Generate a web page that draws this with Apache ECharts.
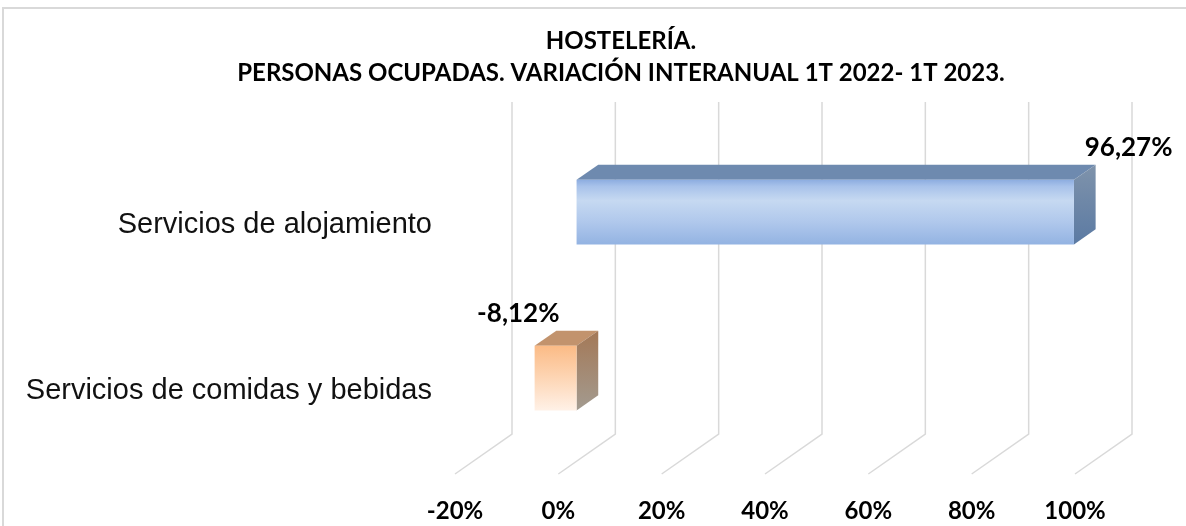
<!DOCTYPE html>
<html>
<head>
<meta charset="utf-8">
<script src="https://cdn.jsdelivr.net/npm/echarts@6/dist/echarts.min.js"></script>
<style>
  html, body { margin: 0; padding: 0; background: #fff; }
  #main { width: 1186px; height: 526px; }
</style>
</head>
<body>
<div id="main"></div>
<script>
// datos del gráfico
var categorias = ['Servicios de alojamiento', 'Servicios de comidas y bebidas'];
var variacion = [96.27, -8.12];
var ticks = [-20, 0, 20, 40, 60, 80, 100];

// profundidad 3D (fondo del gráfico y de las barras)
var DX = 57, DY = -40;
var F1 = 0.32, F2 = 0.70;

var myChart = echarts.init(document.getElementById('main'));

var coloresBarra = [
    {
        front: [[0, '#8dade0'], [0.1, '#a8c2ea'], [0.32, '#c6d9f1'], [0.65, '#b0c8ec'], [1, '#93b3e2']],
        top: '#6e8aaf',
        side: [[0, '#7f93ab'], [1, '#5b7aa3']]
    },
    {
        front: [[0, '#fbbb86'], [0.45, '#fdd3b0'], [1, '#fff1e7']],
        top: '#c2936d',
        side: [[0, '#a47856'], [1, '#a39b90']]
    }
];

function grad(x0, y0, x1, y1, stops) {
    return new echarts.graphic.LinearGradient(x0, y0, x1, y1, stops.map(function (s) {
        return { offset: s[0], color: s[1] };
    }));
}

function fmt(v) {
    return v.toFixed(2).replace('.', ',') + '%';
}

var option = {
    animation: false,
    backgroundColor: '#ffffff',
    title: {
        text: 'HOSTELERÍA.\nPERSONAS OCUPADAS. VARIACIÓN INTERANUAL 1T 2022- 1T 2023.',
        left: 616,
        top: 20,
        textAlign: 'center',
        textStyle: {
            fontFamily: 'Lato',
            fontWeight: 'bold',
            fontSize: 24,
            lineHeight: 32,
            color: '#000'
        }
    },
    graphic: [{
        type: 'rect',
        shape: { x: 3, y: 8, width: 1300, height: 700 },
        style: { fill: 'none', stroke: '#d9d9d9', lineWidth: 2 },
        silent: true,
        z: -10
    }],
    grid: {
        left: 455,
        right: 111,
        top: 142,
        bottom: 52,
        containLabel: false
    },
    xAxis: {
        type: 'value',
        min: -20,
        max: 100,
        interval: 20,
        axisLine: { show: false },
        axisTick: { show: false },
        splitLine: { show: false },
        axisLabel: {
            formatter: '{value}%',
            margin: 25,
            fontFamily: 'Lato',
            fontWeight: 'bold',
            fontSize: 24,
            color: '#000'
        }
    },
    yAxis: {
        type: 'category',
        data: categorias,
        inverse: true,
        axisLine: { show: false },
        axisTick: { show: false },
        splitLine: { show: false },
        axisLabel: {
            margin: 23,
            fontFamily: 'Liberation Sans',
            fontSize: 29,
            color: '#111'
        }
    },
    series: [
        {
            // líneas de la pared del fondo y del suelo
            type: 'custom',
            silent: true,
            z: 1,
            data: ticks.map(function (t) { return [t, 0]; }),
            encode: { x: 0, y: 1 },
            renderItem: function (params, api) {
                var cs = params.coordSys;
                var x = api.coord([api.value(0), 0])[0];
                var bottom = cs.y + cs.height;
                var top = cs.y;
                return {
                    type: 'polyline',
                    shape: {
                        points: [[x, bottom], [x + DX, bottom + DY], [x + DX, top + DY]]
                    },
                    style: { fill: null, stroke: '#d9d9d9', lineWidth: 1.5 }
                };
            }
        },
        {
            // barras 3D
            type: 'custom',
            z: 5,
            data: variacion.map(function (v, i) { return [v, i]; }),
            encode: { x: 0, y: 1 },
            renderItem: function (params, api) {
                var v = api.value(0);
                var idx = api.value(1);
                var pEnd = api.coord([v, idx]);
                var pZero = api.coord([0, idx]);
                var band = api.size([0, 1])[1];
                var h = band * 0.39;
                var xa = Math.min(pEnd[0], pZero[0]);
                var xb = Math.max(pEnd[0], pZero[0]);
                var fx = DX * F1, fy = DY * F1;
                var bx = DX * F2, by = DY * F2;
                var yt = pEnd[1] - h / 2;
                var yb = pEnd[1] + h / 2;
                var c = coloresBarra[idx];
                // cara frontal
                var fL = xa + fx, fR = xb + fx, fT = yt + fy, fB = yb + fy;
                // cara trasera
                var bL = xa + bx, bR = xb + bx, bT = yt + by, bB = yb + by;
                var endBackX = pEnd[0] + bx;
                var labelX = v >= 0 ? endBackX + 33 : endBackX - 38;
                return {
                    type: 'group',
                    children: [
                        {
                            type: 'polygon',
                            shape: { points: [[fL, fT], [fR, fT], [bR, bT], [bL, bT]] },
                            style: { fill: c.top }
                        },
                        {
                            type: 'polygon',
                            shape: { points: [[fR, fT], [bR, bT], [bR, bB], [fR, fB]] },
                            style: { fill: grad(0, 0, 0, 1, c.side) }
                        },
                        {
                            type: 'rect',
                            shape: { x: fL, y: fT, width: fR - fL, height: fB - fT },
                            style: { fill: grad(0, 0, 0, 1, c.front) }
                        },
                        {
                            type: 'text',
                            style: {
                                text: fmt(v),
                                x: labelX,
                                y: bT - 17,
                                align: 'center',
                                verticalAlign: 'middle',
                                fontFamily: 'Lato',
                                fontWeight: 'bold',
                                fontSize: 26,
                                fill: '#000'
                            }
                        }
                    ]
                };
            }
        }
    ]
};

myChart.setOption(option);
</script>
</body>
</html>
